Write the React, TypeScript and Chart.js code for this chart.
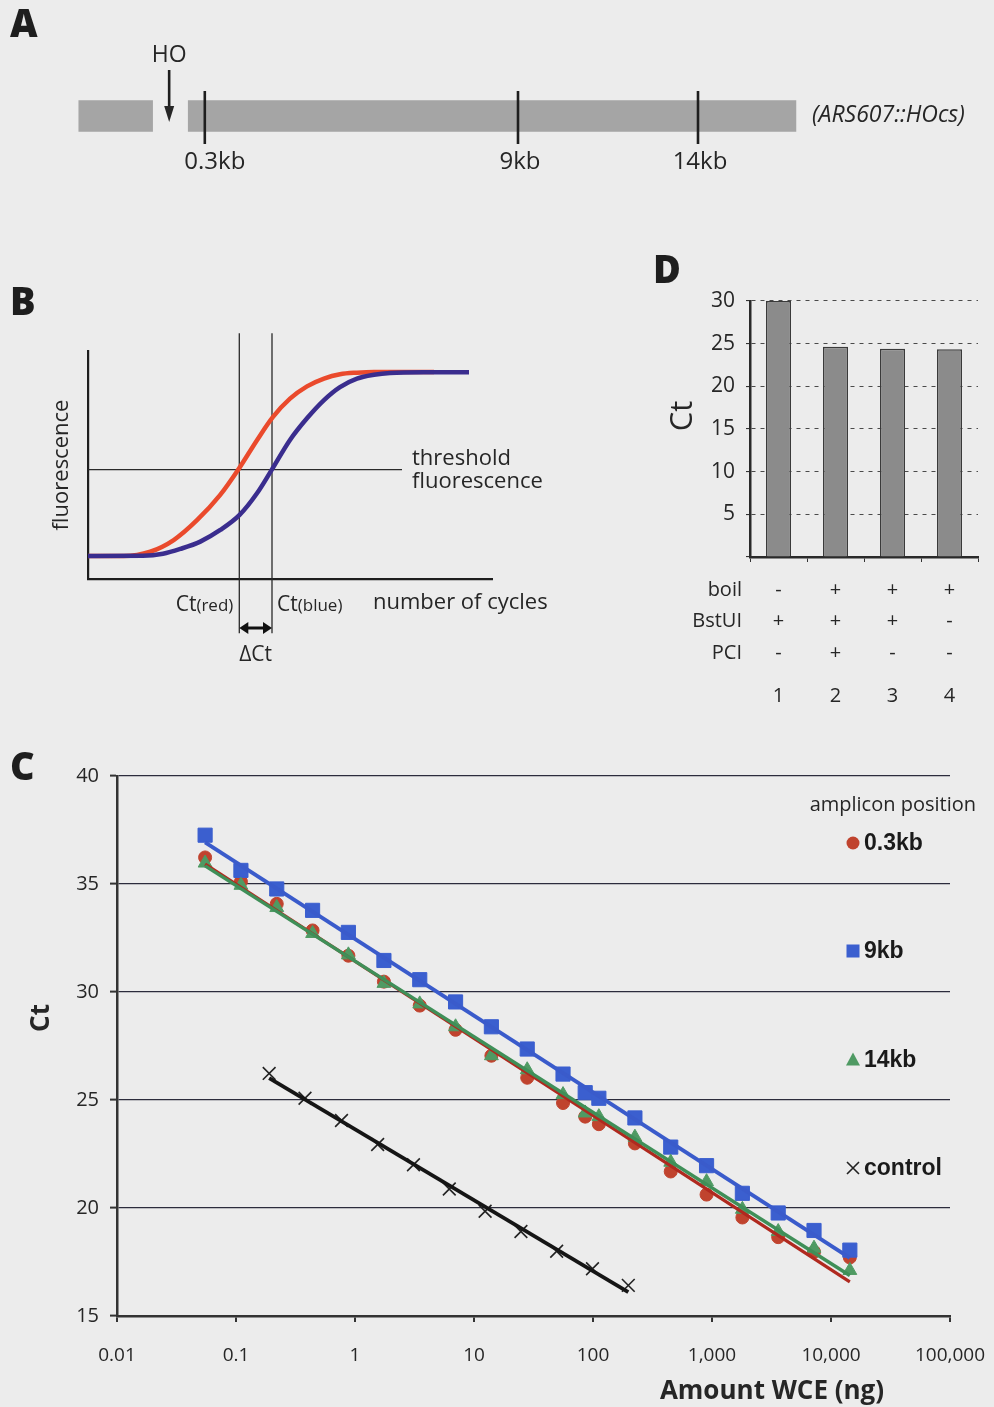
import React, { useEffect, useRef } from "react";
import { Chart, registerables } from "chart.js";

Chart.register(...registerables);

const BG = "#ececec";
const SANS = "'Open Sans', 'Noto Sans', sans-serif";
const ARIAL = "'Liberation Sans', Arial, sans-serif";
const INK = "#262626";

/* ---------------- Panel A : locus map ---------------- */
const segmentStartKb = [-3.2, -0.16];
const segmentEndKb = [-1.15, 16.72];
const ampliconKb = [0.3, 9, 14];
const ampliconLabels = ["0.3kb", "9kb", "14kb"];
const hoSiteKb = -0.69;
const hoLabel = "HO";
const strainLabel = "(ARS607::HOcs)";

/* ---------------- Panel B : amplification curves ---------------- */
const redCycle = [0, 3.57, 6.23, 8.57, 10.9, 13.2, 15.1, 16.9, 18.5, 20.2, 21.9, 23.6, 25.2, 26.9, 28.6, 31.9, 34.6];
const redFluor = [10.1, 10.1, 12.0, 17.1, 25.8, 36.8, 48.5, 60.9, 71.1, 79.1, 84.5, 87.9, 89.8, 90.5, 90.8, 90.8, 90.8];
const blueCycle = [0, 5.5, 7.5, 9.23, 11.23, 13.23, 15.16, 16.9, 18.4, 20.2, 21.9, 23.6, 25.2, 26.9, 28.6, 30.2, 33.6, 38.1];
const blueFluor = [10.1, 10.2, 11.1, 13.2, 16.4, 21.5, 28.1, 37.6, 48.1, 61.0, 70.5, 78.5, 84.2, 87.9, 89.6, 90.4, 90.7, 90.7];
const thresholdFluor = 48;
const thresholdEndCycle = 31.4;
const ctRedCycle = 15.13;
const ctBlueCycle = 18.4;
const markerSpanFluor = [-23.8, 107.8];

/* ---------------- Panel C : standard curves ---------------- */
const dilutionNg = [0.055, 0.11, 0.22, 0.44, 0.88, 1.75, 3.5, 7, 14, 28, 56, 86, 112, 225, 450, 900, 1800, 3600, 7200, 14400];
const ct03kb = [36.23, 35.11, 34.08, 32.85, 31.68, 30.48, 29.37, 28.25, 27.05, 26.03, 24.86, 24.23, 23.88, 22.99, 21.69, 20.62, 19.56, 18.65, 17.97, 17.71];
const ct9kb = [37.26, 35.63, 34.77, 33.78, 32.76, 31.46, 30.57, 29.54, 28.39, 27.36, 26.2, 25.34, 25.08, 24.17, 22.82, 21.96, 20.68, 19.77, 18.96, 18.05];
const ct14kb = [35.97, 34.94, 33.91, 32.71, 31.72, 30.4, 29.45, 28.39, 27.05, 26.4, 25.25, 24.4, 24.23, 23.28, 22.12, 21.22, 19.94, 18.91, 18.14, 17.11];
const controlNg = [0.19, 0.38, 0.77, 1.55, 3.1, 6.2, 12.4, 24.8, 49.5, 99, 198];
const ctControl = [26.23, 25.08, 24.05, 22.94, 22.0, 20.88, 19.85, 18.91, 18.0, 17.19, 16.42];
const xTickValues = [0.01, 0.1, 1, 10, 100, 1000, 10000, 100000];
const xTickLabels = ["0.01", "0.1", "1", "10", "100", "1,000", "10,000", "100,000"];
const legendTitle = "amplicon position";
const legendLabels = ["0.3kb", "9kb", "14kb", "control"];

/* ---------------- Panel D : treatments ---------------- */
const laneLabels = ["1", "2", "3", "4"];
const laneCt = [30.0, 24.65, 24.4, 24.35];
const treatmentNames = ["boil", "BstUI", "PCI"];
const boilRow = ["-", "+", "+", "+"];
const bstuiRow = ["+", "+", "+", "-"];
const pciRow = ["-", "+", "-", "-"];

const COL_RED = "#c0432e";
const COL_BLUE = "#3b5fcf";
const COL_GREEN = "#4f9a63";

function pts(xs: number[], ys: number[]) {
  return xs.map((x, i) => ({ x, y: ys[i] }));
}

function trendEnds(xs: number[], ys: number[]) {
  const lx = xs.map((v) => Math.log10(v));
  const n = lx.length;
  const mx = lx.reduce((a, b) => a + b, 0) / n;
  const my = ys.reduce((a, b) => a + b, 0) / n;
  let sxy = 0;
  let sxx = 0;
  lx.forEach((v, i) => {
    sxy += (v - mx) * (ys[i] - my);
    sxx += (v - mx) * (v - mx);
  });
  const b = sxy / sxx;
  const a = my - b * mx;
  const x0 = Math.min(...xs);
  const x1 = Math.max(...xs);
  return [
    { x: x0, y: a + b * Math.log10(x0) },
    { x: x1, y: a + b * Math.log10(x1) },
  ];
}

const baseOpts = {
  animation: false as const,
  responsive: false,
  events: [] as any[],
  plugins: { legend: { display: false }, tooltip: { enabled: false } },
};

/* ---------- Panel A config ---------- */
const panelAPlugin = {
  id: "panelA",
  afterDatasetsDraw(chart: any) {
    const { ctx, scales } = chart;
    const x = scales.x;
    ctx.save();
    ctx.strokeStyle = "#1e1e1e";
    ctx.fillStyle = INK;
    ctx.lineWidth = 2.6;
    ctx.font = `24px ${SANS}`;
    ctx.textAlign = "center";
    ctx.textBaseline = "middle";
    ampliconKb.forEach((kb, i) => {
      const px = x.getPixelForValue(kb);
      ctx.beginPath();
      ctx.moveTo(px, 91);
      ctx.lineTo(px, 144);
      ctx.stroke();
      ctx.fillText(ampliconLabels[i], px + (i === 0 ? 10 : 2), 162);
    });
    // HO arrow
    const hx = x.getPixelForValue(hoSiteKb);
    ctx.font = `23px ${SANS}`;
    ctx.fillText(hoLabel, hx, 55);
    ctx.lineWidth = 2.6;
    ctx.beginPath();
    ctx.moveTo(hx, 70);
    ctx.lineTo(hx, 108);
    ctx.stroke();
    ctx.beginPath();
    ctx.moveTo(hx - 5, 106);
    ctx.lineTo(hx + 5, 106);
    ctx.lineTo(hx, 122);
    ctx.closePath();
    ctx.fill();
    // strain label
    ctx.font = `italic 23px ${SANS}`;
    ctx.textAlign = "left";
    ctx.fillText(strainLabel, 812, 115);
    ctx.restore();
  },
};

function configA() {
  return {
    type: "bar",
    data: {
      labels: ["locus"],
      datasets: segmentStartKb.map((s, i) => ({
        data: [[s, segmentEndKb[i]]],
        backgroundColor: "#a5a5a5",
        borderWidth: 0,
        barThickness: 31,
        grouped: false,
      })),
    },
    options: {
      ...baseOpts,
      indexAxis: "y",
      layout: { padding: { left: 14, right: 8, top: 66, bottom: 34 } },
      scales: {
        x: { type: "linear", min: -5, max: 22, display: false },
        y: { display: false },
      },
    },
    plugins: [panelAPlugin],
  };
}

/* ---------- Panel B config ---------- */
const panelBPlugin = {
  id: "panelB",
  afterDraw(chart: any) {
    const { ctx, scales } = chart;
    const x = scales.x;
    const y = scales.y;
    const xr = x.getPixelForValue(ctRedCycle);
    const xb = x.getPixelForValue(ctBlueCycle);
    const yt = y.getPixelForValue(thresholdFluor);
    const xt = x.getPixelForValue(thresholdEndCycle);
    const axisY = y.getPixelForValue(0);
    ctx.save();
    ctx.fillStyle = INK;
    ctx.font = `22px ${SANS}`;
    ctx.textBaseline = "middle";
    ctx.textAlign = "left";
    ctx.fillText("threshold", xt + 10, yt - 11);
    ctx.fillText("fluorescence", xt + 10, yt + 12);
    // axis titles
    ctx.textBaseline = "alphabetic";
    ctx.fillText("number of cycles", 373, axisY + 30);
    ctx.save();
    ctx.translate(62, (y.top + y.bottom) / 2);
    ctx.rotate(-Math.PI / 2);
    ctx.textAlign = "center";
    ctx.textBaseline = "middle";
    ctx.fillText("fluorescence", 0, 0);
    ctx.restore();
    // Ct labels
    const base = axisY + 32;
    ctx.font = `17px ${SANS}`;
    const redSub = "(red)";
    const wRedSub = ctx.measureText(redSub).width;
    ctx.textAlign = "left";
    ctx.fillText(redSub, xr - 6 - wRedSub, base);
    ctx.font = `21px ${SANS}`;
    const wCt = ctx.measureText("Ct").width;
    ctx.fillText("Ct", xr - 6 - wRedSub - wCt, base);
    ctx.fillText("Ct", xb + 5, base);
    ctx.font = `17px ${SANS}`;
    ctx.fillText("(blue)", xb + 5 + wCt, base);
    // delta Ct arrow
    const ay = axisY + 49;
    ctx.strokeStyle = "#111";
    ctx.fillStyle = "#111";
    ctx.lineWidth = 3;
    ctx.beginPath();
    ctx.moveTo(xr + 6, ay);
    ctx.lineTo(xb - 6, ay);
    ctx.stroke();
    ctx.beginPath();
    ctx.moveTo(xr, ay);
    ctx.lineTo(xr + 9, ay - 6);
    ctx.lineTo(xr + 9, ay + 6);
    ctx.closePath();
    ctx.fill();
    ctx.beginPath();
    ctx.moveTo(xb, ay);
    ctx.lineTo(xb - 9, ay - 6);
    ctx.lineTo(xb - 9, ay + 6);
    ctx.closePath();
    ctx.fill();
    ctx.fillStyle = INK;
    ctx.font = `21px ${SANS}`;
    ctx.textAlign = "center";
    ctx.textBaseline = "middle";
    ctx.fillText("\u0394Ct", (xr + xb) / 2, axisY + 76);
    ctx.restore();
  },
};

function configB() {
  const thin = { pointRadius: 0, borderColor: "#2a2a2a", borderWidth: 1.3, clip: false as const };
  return {
    type: "line",
    data: {
      datasets: [
        { data: pts(blueCycle, blueFluor), borderColor: "#3a2d8e", borderWidth: 4.5, pointRadius: 0, cubicInterpolationMode: "monotone", order: 0 },
        { data: pts(redCycle, redFluor), borderColor: "#ea4a2c", borderWidth: 4.5, pointRadius: 0, cubicInterpolationMode: "monotone", order: 1 },
        { data: [{ x: 0, y: thresholdFluor }, { x: thresholdEndCycle, y: thresholdFluor }], ...thin, order: 2 },
        { data: markerSpanFluor.map((f) => ({ x: ctRedCycle, y: f })), ...thin, order: 2 },
        { data: markerSpanFluor.map((f) => ({ x: ctBlueCycle, y: f })), ...thin, order: 2 },
      ],
    },
    options: {
      ...baseOpts,
      layout: { padding: { left: 88, top: 71, right: 128, bottom: 101 } },
      scales: {
        x: {
          type: "linear", min: 0, max: 40.4,
          grid: { display: false }, ticks: { display: false },
          border: { display: true, color: "#1e1e1e", width: 2.2 },
          afterFit: (s: any) => { s.height = 0; },
        },
        y: {
          type: "linear", min: 0, max: 100,
          grid: { display: false }, ticks: { display: false },
          border: { display: true, color: "#1e1e1e", width: 2.2 },
          afterFit: (s: any) => { s.width = 0; },
        },
      },
    },
    plugins: [panelBPlugin],
  };
}

/* ---------- Panel C config ---------- */
function drawMarker(ctx: CanvasRenderingContext2D, kind: number, x: number, y: number) {
  ctx.save();
  if (kind === 0) {
    ctx.fillStyle = COL_RED;
    ctx.beginPath();
    ctx.arc(x, y, 6.5, 0, Math.PI * 2);
    ctx.fill();
  } else if (kind === 1) {
    ctx.fillStyle = COL_BLUE;
    ctx.fillRect(x - 6.5, y - 6.5, 13, 13);
  } else if (kind === 2) {
    ctx.fillStyle = COL_GREEN;
    ctx.beginPath();
    ctx.moveTo(x, y - 7.5);
    ctx.lineTo(x + 7, y + 5.5);
    ctx.lineTo(x - 7, y + 5.5);
    ctx.closePath();
    ctx.fill();
  } else {
    ctx.strokeStyle = "#222";
    ctx.lineWidth = 1.6;
    ctx.beginPath();
    ctx.moveTo(x - 6, y - 6);
    ctx.lineTo(x + 6, y + 6);
    ctx.moveTo(x + 6, y - 6);
    ctx.lineTo(x - 6, y + 6);
    ctx.stroke();
  }
  ctx.restore();
}

const panelCPlugin = {
  id: "panelC",
  afterDraw(chart: any) {
    const { ctx } = chart;
    ctx.save();
    ctx.fillStyle = INK;
    // y title
    ctx.save();
    ctx.translate(42, 278);
    ctx.rotate(-Math.PI / 2);
    ctx.font = `bold 26px ${SANS}`;
    ctx.textAlign = "center";
    ctx.textBaseline = "middle";
    ctx.fillText("Ct", 0, 0);
    ctx.restore();
    // x title
    ctx.font = `bold 26px ${SANS}`;
    ctx.textAlign = "center";
    ctx.textBaseline = "middle";
    ctx.fillText("Amount WCE (ng)", 772, 652);
    // legend
    ctx.font = `20px ${SANS}`;
    ctx.textAlign = "right";
    ctx.fillText(legendTitle, 976, 65);
    const ys = [103, 211, 320, 428];
    ctx.font = `bold 23px ${ARIAL}`;
    ctx.textAlign = "left";
    legendLabels.forEach((lab, i) => {
      drawMarker(ctx, i, 853, ys[i]);
      ctx.fillStyle = "#1a1a1a";
      ctx.fillText(lab, 864, ys[i] + 1);
    });
    ctx.restore();
  },
};

function configC() {
  const fit03 = trendEnds(dilutionNg, ct03kb);
  const fit9 = trendEnds(dilutionNg, ct9kb);
  const fit14 = trendEnds(dilutionNg, ct14kb);
  const fitCtl = trendEnds(controlNg, ctControl);
  const line = (data: any, color: string, w: number, order: number) => ({
    data, showLine: true, borderColor: color, borderWidth: w, pointRadius: 0, order,
  });
  const mark = (data: any, color: string, style: string, r: number, order: number, bw = 1) => ({
    data, showLine: false, pointStyle: style, pointRadius: r,
    backgroundColor: color, borderColor: color, pointBorderWidth: bw, order,
  });
  return {
    type: "scatter",
    data: {
      datasets: [
        line(fit14, "#3f8f58", 3.5, 0),
        line(fit9, "#3a5bcb", 4, 1),
        line(fit03, "#b0291f", 3.2, 2),
        line(fitCtl, "#151515", 3.8, 2),
        mark(pts(dilutionNg, ct14kb), COL_GREEN, "triangle", 8, 3),
        mark(pts(controlNg, ctControl), "#222", "crossRot", 9, 3, 1.6),
        mark(pts(dilutionNg, ct9kb), COL_BLUE, "rect", 10, 4),
        mark(pts(dilutionNg, ct03kb), COL_RED, "circle", 6.5, 5),
      ],
    },
    options: {
      ...baseOpts,
      layout: { padding: { left: 0, top: 36, right: 44, bottom: 0 } },
      scales: {
        x: {
          type: "logarithmic", min: 0.01, max: 100000,
          afterBuildTicks: (s: any) => { s.ticks = xTickValues.map((v) => ({ value: v })); },
          ticks: {
            autoSkip: false, maxRotation: 0, color: INK, padding: 22,
            font: { family: SANS, size: 19 },
            callback: (v: any) => {
              const i = xTickValues.findIndex((t) => Math.abs(Math.log10(t) - Math.log10(Number(v))) < 1e-6);
              return i >= 0 ? xTickLabels[i] : "";
            },
          },
          grid: { drawOnChartArea: false, tickLength: 6, color: "#333", lineWidth: 2 },
          border: { color: "#333", width: 2.5 },
          afterFit: (s: any) => {
            s.height = 91;
            s.paddingLeft = 0;
            s.paddingRight = 0;
          },
        },
        y: {
          min: 15, max: 40,
          ticks: { stepSize: 5, color: INK, padding: 11, font: { family: SANS, size: 20 } },
          grid: { color: "#2c2c3c", lineWidth: 1.2, tickLength: 7, tickColor: "#333", tickWidth: 2 },
          border: { color: "#333", width: 2.5 },
          afterFit: (s: any) => {
            s.width = 117;
            s.paddingTop = 0;
            s.paddingBottom = 0;
          },
        },
      },
    },
    plugins: [panelCPlugin],
  };
}

/* ---------- Panel D config ---------- */
const panelDPlugin = {
  id: "panelD",
  afterDraw(chart: any) {
    const { ctx, scales } = chart;
    const x = scales.x;
    const bottom = chart.chartArea.bottom;
    ctx.save();
    ctx.fillStyle = INK;
    ctx.save();
    ctx.translate(43, 146);
    ctx.rotate(-Math.PI / 2);
    ctx.font = `31px ${SANS}`;
    ctx.textAlign = "center";
    ctx.textBaseline = "middle";
    ctx.fillText("Ct", 0, 0);
    ctx.restore();
    ctx.font = `20px ${SANS}`;
    ctx.textBaseline = "middle";
    const rows = [boilRow, bstuiRow, pciRow];
    const offs = [33, 64.7, 96.3];
    rows.forEach((row, r) => {
      ctx.textAlign = "right";
      ctx.fillText(treatmentNames[r], 102, bottom + offs[r]);
      ctx.textAlign = "center";
      row.forEach((sym, i) => {
        ctx.fillText(sym, x.getPixelForValue(i), bottom + offs[r]);
      });
    });
    ctx.textAlign = "center";
    laneLabels.forEach((lab, i) => {
      ctx.fillText(lab, x.getPixelForValue(i), bottom + 139.7);
    });
    ctx.restore();
  },
};

function configD() {
  return {
    type: "bar",
    data: {
      labels: laneLabels,
      datasets: [
        {
          data: laneCt,
          backgroundColor: "#8b8b8b",
          borderColor: "#3a3a3a",
          borderWidth: 1.5,
          barPercentage: 0.44,
          categoryPercentage: 1,
        },
      ],
    },
    options: {
      ...baseOpts,
      layout: { padding: { left: 0, top: 31, right: 16, bottom: 0 } },
      scales: {
        x: {
          grid: { display: true, drawOnChartArea: false, tickLength: 5, color: "#333", offset: true },
          ticks: { display: false },
          border: { color: "#2a2a2a", width: 2.5 },
          afterFit: (s: any) => { s.height = 163; },
        },
        y: {
          min: 0, max: 30,
          ticks: {
            stepSize: 5, color: INK, padding: 11, font: { family: SANS, size: 21 },
            callback: (v: any) => (Number(v) === 0 ? "" : String(v)),
          },
          grid: { color: "#4a4a4a", lineWidth: 1.1, tickLength: 4, tickColor: "#333" },
          border: { color: "#2a2a2a", width: 2.5, dash: [4, 5] },
          afterFit: (s: any) => { s.width = 110; },
        },
      },
    },
    plugins: [panelDPlugin],
  };
}

function ChartCanvas(props: { left: number; top: number; width: number; height: number; make: () => any }) {
  const ref = useRef<HTMLCanvasElement | null>(null);
  useEffect(() => {
    if (!ref.current) return;
    const chart = new Chart(ref.current, props.make());
    return () => chart.destroy();
  }, []);
  return (
    <canvas
      ref={ref}
      width={props.width}
      height={props.height}
      style={{ position: "absolute", left: props.left, top: props.top, width: props.width, height: props.height }}
    />
  );
}

function Letter(props: { ch: string; left: number; top: number }) {
  return (
    <div
      style={{
        position: "absolute",
        left: props.left,
        top: props.top,
        fontFamily: SANS,
        fontWeight: 800,
        fontSize: 38,
        lineHeight: "38px",
        color: "#1e1e1e",
      }}
    >
      {props.ch}
    </div>
  );
}

export default function App() {
  return (
    <div style={{ position: "absolute", left: 0, top: 0, width: 994, height: 1407, background: BG, overflow: "hidden" }}>
      <ChartCanvas left={0} top={0} width={994} height={200} make={configA} />
      <ChartCanvas left={0} top={280} width={620} height={400} make={configB} />
      <ChartCanvas left={640} top={270} width={354} height={450} make={configD} />
      <ChartCanvas left={0} top={740} width={994} height={667} make={configC} />
      <Letter ch="A" left={10} top={3} />
      <Letter ch="B" left={10} top={281} />
      <Letter ch="C" left={10} top={746} />
      <Letter ch="D" left={653} top={249} />
    </div>
  );
}
